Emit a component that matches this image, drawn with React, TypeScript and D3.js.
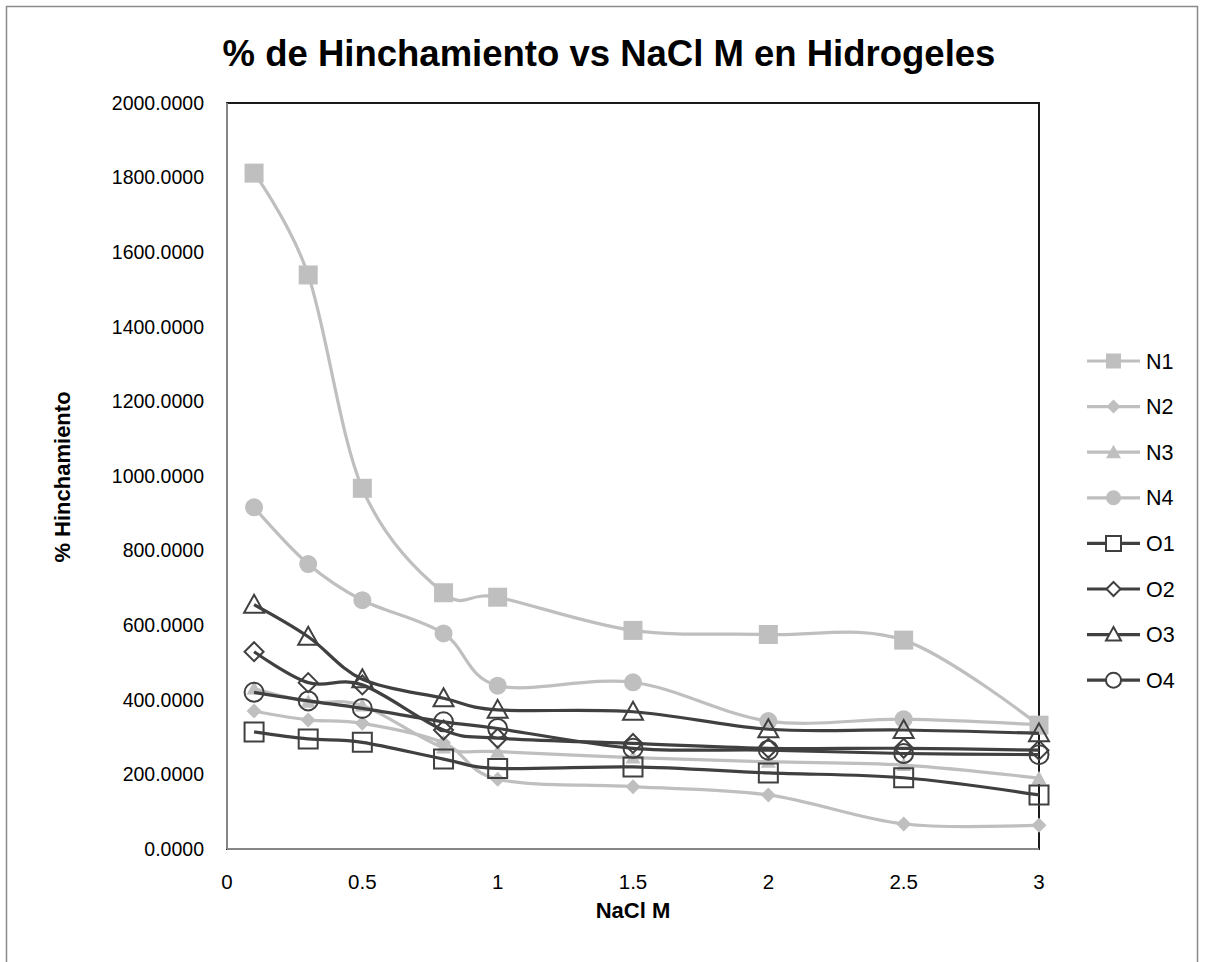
import React from "react";
import * as d3 from "d3";

const xValues = [0.1, 0.3, 0.5, 0.8, 1, 1.5, 2, 2.5, 3];
const N1 = [1812, 1539, 967, 687, 675, 586, 575, 560, 332];
const N2 = [370, 346, 337, 285, 187, 167, 145, 67, 64];
const N3 = [430, 395, 385, 272, 261, 245, 234, 225, 190];
const N4 = [916, 764, 667, 578, 438, 447, 343, 348, 333];
const O1 = [314, 295, 286, 241, 216, 220, 204, 191, 145];
const O2 = [529, 446, 440, 319, 297, 283, 270, 270, 265];
const O3 = [655, 569, 455, 404, 373, 368, 321, 319, 310];
const O4 = [420, 397, 377, 341, 323, 270, 265, 256, 253];
const yTicks = [0, 200, 400, 600, 800, 1000, 1200, 1400, 1600, 1800, 2000];
const xTicks = [0, 0.5, 1, 1.5, 2, 2.5, 3];

type Shape = "square" | "diamond" | "triangle" | "circle";
const series: { name: string; values: number[]; shape: Shape; filled: boolean }[] = [
  { name: "N1", values: N1, shape: "square", filled: true },
  { name: "N2", values: N2, shape: "diamond", filled: true },
  { name: "N3", values: N3, shape: "triangle", filled: true },
  { name: "N4", values: N4, shape: "circle", filled: true },
  { name: "O1", values: O1, shape: "square", filled: false },
  { name: "O2", values: O2, shape: "diamond", filled: false },
  { name: "O3", values: O3, shape: "triangle", filled: false },
  { name: "O4", values: O4, shape: "circle", filled: false },
];

const GRAY = "#BFBFBF";
const DARK = "#404040";
const FONT = "'Liberation Sans', Arial, sans-serif";

function markerPath(shape: Shape, size: number): string {
  const h = size / 2;
  switch (shape) {
    case "square":
      return `M${-h},${-h}H${h}V${h}H${-h}Z`;
    case "diamond":
      return `M0,${-h}L${h},0L0,${h}L${-h},0Z`;
    case "triangle":
      return `M0,${-h}L${h},${h * 0.8}L${-h},${h * 0.8}Z`;
    case "circle":
      return `M${h},0A${h},${h} 0 1,1 ${-h},0A${h},${h} 0 1,1 ${h},0Z`;
  }
}

function markerSize(shape: Shape, filled: boolean, legend: boolean): number {
  if (legend) {
    if (shape === "diamond") return 14;
    return 15;
  }
  if (filled) {
    if (shape === "square") return 19;
    if (shape === "circle") return 18;
    return 15;
  }
  if (shape === "triangle") return 20;
  return 19;
}

export default function App() {
  const W = 1205;
  const H = 962;
  const left = 227;
  const right = 1039;
  const top = 103;
  const bottom = 849;
  const x = d3.scaleLinear().domain([0, 3]).range([left, right]);
  const y = d3.scaleLinear().domain([0, 2000]).range([bottom, top]);
  const line = d3
    .line<number>()
    .x((_, i) => x(xValues[i]))
    .y((v) => y(v))
    .curve(d3.curveCatmullRom.alpha(0));

  const legendX = 1087;
  const legendY0 = 361;
  const legendStep = 45.6;

  return (
    <svg width={W} height={H} style={{ display: "block", position: "absolute", left: 0, top: 0 }}>
      <rect x={0} y={0} width={W} height={H} fill="#fff" />
      <rect x={6.5} y={6.5} width={1191} height={970} fill="none" stroke="#8a8a8a" strokeWidth={1.5} />
      <text x={609} y={66} textAnchor="middle" fontFamily={FONT} fontWeight="bold" fontSize={36.5} fill="#000">
        % de Hinchamiento vs NaCl M en Hidrogeles
      </text>
      <rect x={left} y={top} width={right - left} height={bottom - top} fill="none" stroke="#1a1a1a" strokeWidth={2} />
      <line x1={left} x2={left} y1={top} y2={bottom} stroke="#868686" strokeWidth={2} />
      <line x1={left} x2={right} y1={bottom} y2={bottom} stroke="#868686" strokeWidth={2} />
      {yTicks.map((t) => (
        <text key={t} x={204} y={y(t)} dy="0.35em" textAnchor="end" fontFamily={FONT} fontSize={19.5} fill="#000">
          {t.toFixed(4)}
        </text>
      ))}
      {xTicks.map((t) => (
        <text key={t} x={x(t)} y={882} dy="0.35em" textAnchor="middle" fontFamily={FONT} fontSize={20.5} fill="#000">
          {String(t)}
        </text>
      ))}
      <text x={633} y={910} dy="0.35em" textAnchor="middle" fontFamily={FONT} fontWeight="bold" fontSize={22} fill="#000">
        NaCl M
      </text>
      <text
        transform={`translate(62,477) rotate(-90)`}
        dy="0.35em"
        textAnchor="middle"
        fontFamily={FONT}
        fontWeight="bold"
        fontSize={22}
        fill="#000"
      >
        % Hinchamiento
      </text>
      {series.map((s) => {
        const color = s.filled ? GRAY : DARK;
        return (
          <g key={s.name}>
            <path d={line(s.values) || ""} fill="none" stroke={color} strokeWidth={3.2} />
            {s.values.map((v, i) => (
              <path
                key={i}
                transform={`translate(${x(xValues[i])},${y(v)})`}
                d={markerPath(s.shape, markerSize(s.shape, s.filled, false))}
                fill={s.filled ? GRAY : "none"}
                stroke={s.filled ? "none" : DARK}
                strokeWidth={2}
              />
            ))}
          </g>
        );
      })}
      {series.map((s, i) => {
        const color = s.filled ? GRAY : DARK;
        const cy = legendY0 + i * legendStep;
        return (
          <g key={s.name}>
            <line x1={legendX} x2={legendX + 53} y1={cy} y2={cy} stroke={color} strokeWidth={3.2} />
            <path
              transform={`translate(${legendX + 26.5},${cy})`}
              d={markerPath(s.shape, markerSize(s.shape, s.filled, true))}
              fill={s.filled ? GRAY : "#fff"}
              stroke={s.filled ? "none" : DARK}
              strokeWidth={2}
            />
            <text x={legendX + 59} y={cy} dy="0.35em" fontFamily={FONT} fontSize={21.5} fill="#000">
              {s.name}
            </text>
          </g>
        );
      })}
    </svg>
  );
}
